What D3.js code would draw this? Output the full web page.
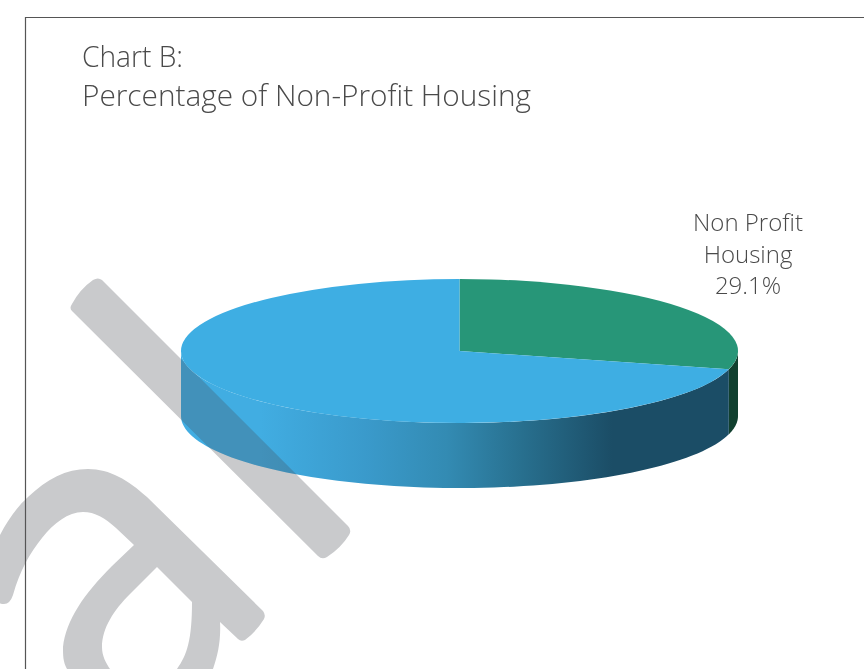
<!DOCTYPE html>
<html><head><meta charset="utf-8">
<script src="https://cdn.jsdelivr.net/npm/d3@7"></script>
<style>html,body{margin:0;padding:0;background:#fff;overflow:hidden}svg{display:block}text{font-family:"Open Sans",Lato,sans-serif;font-weight:300}</style>
</head><body><svg id="c" width="864" height="669"></svg>
<script>
const categories = ["Non Profit Housing", "Other Housing"];
const values = [29.1, 70.9];
const sliceColors = ["#279678", "#3eaee3"];
const titleLines = ["Chart B:", "Percentage of Non-Profit Housing"];
const titleWidths = [101, 449];
const labelLines = ["Non Profit", "Housing", "29.1%"];
const W = 864, H = 669, cx = 459.5, cy = 351, rx = 278.5, ry = 72, depth = 65;
const svg = d3.select("#c");
const defs = svg.append("defs");
const grad = defs.append("linearGradient").attr("id","wall").attr("gradientUnits","userSpaceOnUse")
  .attr("x1",260).attr("x2",612).attr("y1",0).attr("y2",0);
[[0,"#41ade2"],[0.3,"#3a9acb"],[0.53,"#338bb3"],[0.74,"#28708f"],[1,"#1b4d66"]].forEach(s=>
  grad.append("stop").attr("offset",s[0]).attr("stop-color",s[1]));
const wallFill = ["#11402f","url(#wall)"];
const pie = d3.pie().sort(null).startAngle(0).endAngle(2*Math.PI)(values);
const area = d3.area().x(a=>cx+rx*Math.sin(a)).y0(a=>cy-ry*Math.cos(a)).y1(a=>cy-ry*Math.cos(a)+depth);
const walls = svg.append("g");
const clip = defs.append("clipPath").attr("id","wallClip");
pie.forEach((p,i)=>{
  const a0=Math.max(p.startAngle,Math.PI/2), a1=Math.min(p.endAngle,3*Math.PI/2);
  if(a1<=a0) return;
  const n=80, pts=d3.range(n+1).map(k=>a0+(a1-a0)*k/n);
  walls.append("path").attr("d",area(pts)).attr("fill",wallFill[i]);
  clip.append("path").attr("d",area(pts));
});
const bandPath = "M72 304 Q69 308 72 311 L318 556 Q322 560 327 557 Q341 548 349 535 Q352 530 348 526 L102 280 Q98 277 93 280 Q80 289 72 304 Z";
const mark = svg.append("g").attr("fill","#c9cacc").style("mix-blend-mode","multiply");
mark.append("path").attr("d",bandPath);
mark.append("path").attr("d","M0 535 C8 520 16 508 28 497 C47 479 66 469 88 469 C110 469 128 480 147 497 L263 611 Q266 615 264 619 Q256 632 245 640 Q241 642 238 639 L220 622 C221 640 218 655 213 669 L177 669 C187 655 192 640 192 602 L157 567 L130 594 C114 610 102 628 102 647 C102 656 106 663 110 669 L67 669 C63 662 63 655 63 647 C66 620 84 594 112 566 L134 545 L116 528 C105 518 95 512 83 512 C68 512 54 523 42 538 C30 553 20 570 13 595 Q10 604 4 604 Q0 604 0 603 Z");
svg.append("path").attr("d",bandPath).attr("fill","#fff").attr("opacity",0.07).attr("clip-path","url(#wallClip)");
svg.append("path").attr("d",`M${W} 17.5H25.5V${H}`).attr("fill","none").attr("stroke","#555").attr("stroke-width",1.2);
const arc = d3.arc().innerRadius(0).outerRadius(rx);
const pieTop = svg.append("g").attr("transform",`translate(${cx},${cy}) scale(1,${ry/rx})`);
pieTop.selectAll("path").data(pie).join("path").attr("d",arc).attr("fill",(d,i)=>sliceColors[i]);
svg.selectAll("text.t").data(titleLines).join("text").attr("class","t")
  .attr("x",82).attr("y",(d,i)=>67+i*39).attr("font-size",29.5).attr("fill","#4a4a4a")
  .attr("textLength",(d,i)=>titleWidths[i]).attr("lengthAdjust","spacingAndGlyphs").text(d=>d);
svg.selectAll("text.l").data(labelLines).join("text").attr("class","l")
  .attr("x",748).attr("y",(d,i)=>231+i*31.5).attr("text-anchor","middle").attr("font-size",24).attr("fill","#4a4a4a").text(d=>d);
</script></body></html>
